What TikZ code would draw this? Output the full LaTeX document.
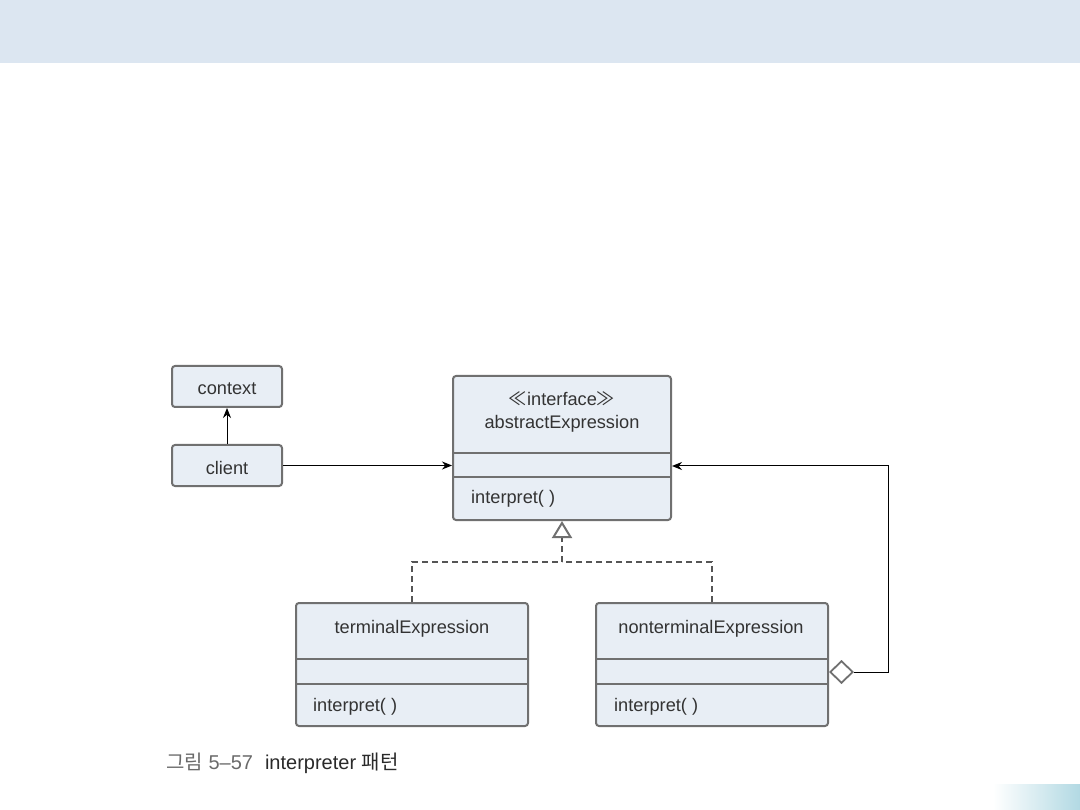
\documentclass[tikz,border=0pt]{standalone}
\usepackage{fontspec}
\setmainfont{Liberation Sans}
\newfontfamily\kr{Noto Sans CJK KR}
\usetikzlibrary{arrows.meta}
\definecolor{boxfill}{HTML}{E8EEF5}
\definecolor{bordergray}{HTML}{707070}
\definecolor{textgray}{HTML}{333333}
\definecolor{headerblue}{HTML}{DCE6F1}
\definecolor{dashgray}{HTML}{555555}
\definecolor{capgray}{HTML}{6A6A6A}
\definecolor{capdark}{HTML}{2A2A2A}
\definecolor{gradblue}{HTML}{B2D9E3}
\begin{document}
\begin{tikzpicture}[x=1pt,y=-1pt,
  cls/.style={draw=bordergray, fill=boxfill, line width=2pt, rounded corners=3pt, inner sep=0pt},
  txt/.style={text=textgray, font=\fontsize{18.2}{21}\selectfont, inner sep=0pt},
  sep/.style={draw=bordergray, line width=2pt},
  assoc/.style={draw=black, line width=1pt, -{Stealth[length=10pt,width=8pt]}},
  real/.style={draw=dashgray, line width=1.2pt, dash pattern=on 6pt off 4pt},
]
\useasboundingbox (0,0) rectangle (1080,810);
\fill[headerblue] (0,0) rectangle (1080,63);
\shade[left color=white, right color=gradblue] (993,784) rectangle (1080,810);

% context and client
\node[cls, minimum width=110pt, minimum height=41pt] (context) at (227,386.5) {};
\node[txt] (contextT) at (227,388.5) {context};
\node[cls, minimum width=110pt, minimum height=41pt] (client) at (227,465.5) {};
\node[txt] (clientT) at (227,467.5) {client};

% abstractExpression
\node[cls, minimum width=218pt, minimum height=144pt] (abs) at (562,448) {};
\node[txt] (absStereo) at (562,399) {{\kr ≪}interface{\kr ≫}};
\node[txt] (absName) at (562,424) {abstractExpression};
\draw[sep] (abs.west |- 0,453) -- (abs.east |- 0,453);
\draw[sep] (abs.west |- 0,477) -- (abs.east |- 0,477);
\node[txt, anchor=west] (absOp) at (471,499) {interpret( )};

% terminalExpression
\node[cls, minimum width=232pt, minimum height=123pt] (term) at (412,664.5) {};
\node[txt] (termName) at (412,629) {terminalExpression};
\draw[sep] (term.west |- 0,659) -- (term.east |- 0,659);
\draw[sep] (term.west |- 0,684) -- (term.east |- 0,684);
\node[txt, anchor=west] (termOp) at (313,707) {interpret( )};

% nonterminalExpression
\node[cls, minimum width=232pt, minimum height=123pt] (nonterm) at (712,664.5) {};
\node[txt] (nontermName) at (711,629) {nonterminalExpression};
\draw[sep] (nonterm.west |- 0,659) -- (nonterm.east |- 0,659);
\draw[sep] (nonterm.west |- 0,684) -- (nonterm.east |- 0,684);
\node[txt, anchor=west] (nontermOp) at (614,707) {interpret( )};

% associations
\draw[assoc] (client.north) -- (context.south);
\draw[assoc] (client.east) -- (abs.west |- client.east);

% realization
\coordinate (junc) at (562,562);
\draw[real] (term.north) |- (junc);
\draw[real] (nonterm.north) |- (junc);
\draw[real, -{Triangle[open, length=17pt, width=20pt, line width=2pt, color=bordergray]}] (junc) -- (abs.south);

% aggregation
\coordinate (aggStart) at (nonterm.east |- 0,672);
\coordinate (aggEnd) at (abs.east |- 0,466);
\coordinate (bendA) at (888,672);
\coordinate (bendB) at (888,466);
\draw[draw=black, line width=1pt, {Diamond[length=25pt, width=24pt, line width=1.8pt, color=bordergray, fill=white]}-{Stealth[length=10pt,width=8pt]}] (aggStart) -- (bendA) -- (bendB) -- (aggEnd);

% caption
\node[anchor=west, inner sep=0pt, font=\fontsize{20}{23}\selectfont] (cap) at (166,763) {\textcolor{capgray}{{\kr 그림} 5–57}\hspace{12pt}\textcolor{capdark}{interpreter {\kr 패턴}}};
\end{tikzpicture}
\end{document}
